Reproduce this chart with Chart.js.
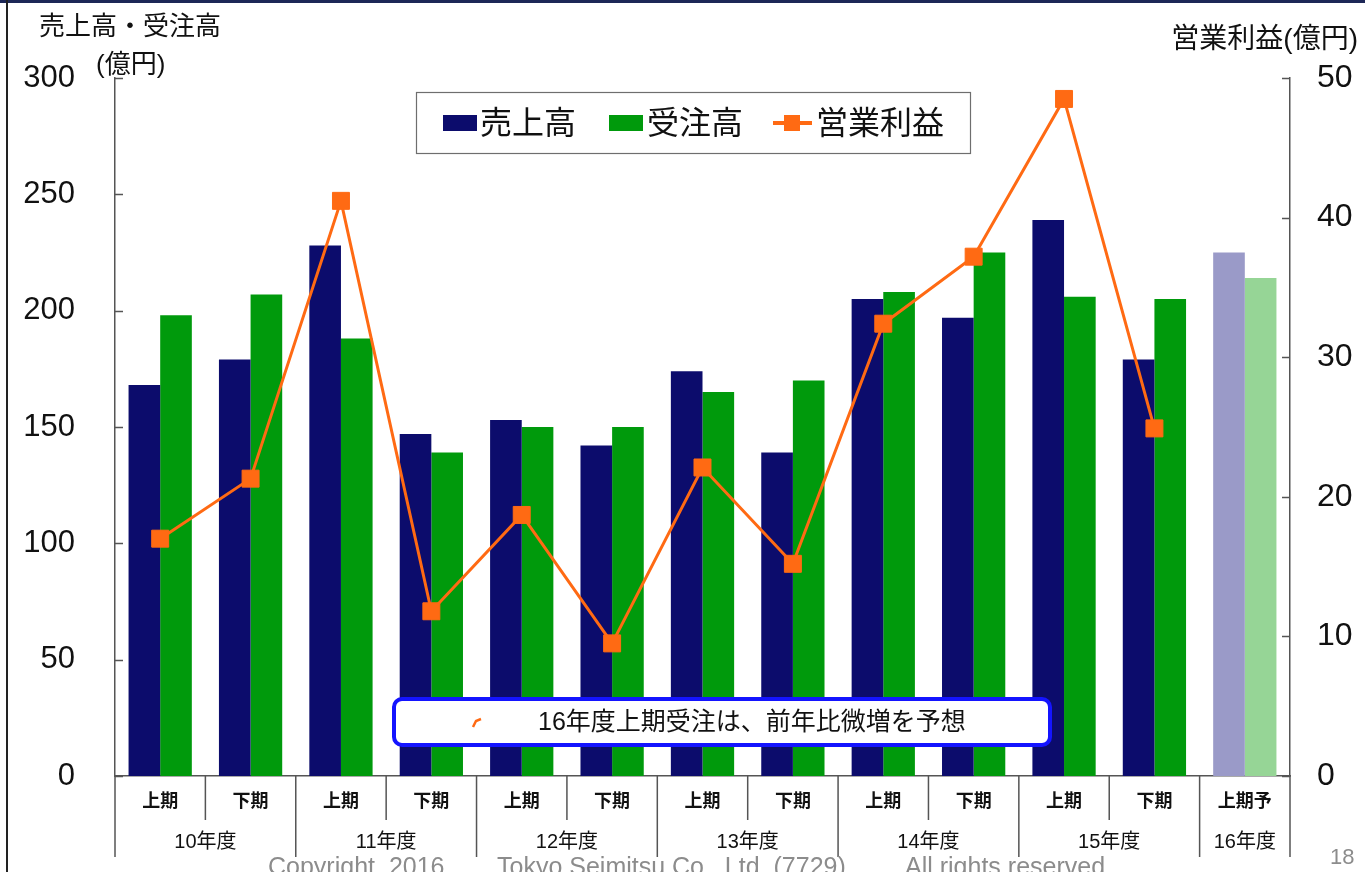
<!DOCTYPE html>
<html>
<head>
<meta charset="utf-8">
<script src="https://cdn.jsdelivr.net/npm/chart.js@4.4.1/dist/chart.umd.min.js"></script>
<style>
  html, body { margin: 0; padding: 0; background: #fff; }
  #wrap { width: 1365px; height: 872px; position: relative; }
</style>
</head>
<body>
<div id="wrap"><canvas id="salesChart"></canvas></div>
<script>
// periods on the x axis, grouped by fiscal year
const periods = ['上期', '下期', '上期', '下期', '上期', '下期', '上期', '下期', '上期', '下期', '上期', '下期', '上期予'];
const fiscalYears = ['10年度', '11年度', '12年度', '13年度', '14年度', '15年度', '16年度'];
const yearSpans = [2, 2, 2, 2, 2, 2, 1];

// 億円
const sales = [168, 179, 228, 147, 153, 142, 174, 139, 205, 197, 239, 179, 225];
const orders = [198, 207, 188, 139, 150, 150, 165, 170, 208, 225, 206, 205, 214];
const operatingProfit = [17.0, 21.3, 41.2, 11.8, 18.7, 9.5, 22.1, 15.2, 32.4, 37.2, 48.5, 24.9, null];

const leftTicks = [0, 50, 100, 150, 200, 250, 300];
const rightTicks = [0, 10, 20, 30, 40, 50];

const NAVY = '#0c0c6c', NAVY_FC = '#9a9ac8';
const GREEN = '#009a0c', GREEN_FC = '#96d596';
const ORANGE = '#ff6a13';
const AXIS = '#555555';
const FONT = '"Liberation Sans", Arial, "Noto Sans CJK JP", sans-serif';

const lastIdx = periods.length - 1;

const decor = {
    id: 'decor',
    beforeDraw(chart) {
        const c = chart.ctx;
        c.save();
        c.fillStyle = '#fff';
        c.fillRect(0, 0, chart.width, chart.height);
        c.restore();
    },
    afterDraw(chart) {
        const c = chart.ctx;
        const x = chart.scales.x, y = chart.scales.y, y1 = chart.scales.y1;
        const area = chart.chartArea;
        c.save();

        // axis titles
        c.fillStyle = '#111';
        c.textBaseline = 'top';
        c.textAlign = 'left';
        c.font = '26px ' + FONT;
        c.fillText('売上高・受注高', 39, 15);
        c.fillText('(億円)', 96, 53);
        c.textAlign = 'right';
        c.font = '28px ' + FONT;
        c.fillText('営業利益(億円)', 1358, 26);

        // inner tick marks on both value axes
        c.strokeStyle = AXIS;
        c.lineWidth = 1.5;
        c.beginPath();
        leftTicks.forEach(v => {
            const py = Math.round(y.getPixelForValue(v)) + 0.5;
            c.moveTo(area.left, py); c.lineTo(area.left + 8, py);
        });
        rightTicks.forEach(v => {
            const py = Math.round(y1.getPixelForValue(v)) + 0.5;
            c.moveTo(area.right, py); c.lineTo(area.right - 8, py);
        });
        c.stroke();

        // category separators below the axis
        const half = (x.getPixelForValue(1) - x.getPixelForValue(0)) / 2;
        const yearEnds = [];
        let acc = 0;
        yearSpans.forEach(n => { acc += n; yearEnds.push(acc); });
        c.beginPath();
        for (let i = 0; i <= periods.length; i++) {
            const px = i === 0 ? area.left : (i === periods.length ? area.right : x.getPixelForValue(i) - half);
            const isYear = i === 0 || yearEnds.includes(i);
            c.moveTo(px, area.bottom);
            c.lineTo(px, isYear ? 857 : 820);
        }
        c.stroke();

        // fiscal year labels
        c.fillStyle = '#111';
        c.font = '20px ' + FONT;
        c.textAlign = 'center';
        c.textBaseline = 'middle';
        let start = 0;
        fiscalYears.forEach((label, k) => {
            const end = start + yearSpans[k] - 1;
            const cx = (x.getPixelForValue(start) + x.getPixelForValue(end)) / 2;
            c.fillText(label, cx, 842);
            start = end + 1;
        });

        // legend
        const ds = chart.data.datasets;
        c.fillStyle = '#fff';
        c.fillRect(416, 92, 554, 61);
        c.strokeStyle = '#6e6e6e';
        c.lineWidth = 1.2;
        c.strokeRect(416.5, 92.5, 554, 61);
        const ly = 123;
        c.font = '32px ' + FONT;
        c.textAlign = 'left';
        c.textBaseline = 'middle';
        c.fillStyle = NAVY;
        c.fillRect(443, ly - 8, 34, 16);
        c.fillStyle = GREEN;
        c.fillRect(609, ly - 8, 34, 16);
        c.strokeStyle = ORANGE;
        c.lineWidth = 4;
        c.beginPath(); c.moveTo(773, ly); c.lineTo(812, ly); c.stroke();
        c.fillStyle = ORANGE;
        c.fillRect(784, ly - 8, 16, 16);
        c.fillStyle = '#111';
        c.fillText(ds[0].label, 480, ly + 2);
        c.fillText(ds[1].label, 647, ly + 2);
        c.fillText(ds[2].label, 816, ly + 2);

        // annotation box
        c.fillStyle = '#fff';
        c.strokeStyle = '#1414ff';
        c.lineWidth = 4;
        c.beginPath();
        c.roundRect(394, 699, 656, 46, 8);
        c.fill(); c.stroke();
        c.strokeStyle = ORANGE;
        c.lineWidth = 2.5;
        c.beginPath(); c.moveTo(473, 727); c.lineTo(476, 721); c.lineTo(481, 719); c.stroke();
        c.fillStyle = '#111';
        c.font = '25px ' + FONT;
        c.textAlign = 'left';
        c.fillText('16年度上期受注は、前年比微増を予想', 538, 723);

        // footer
        c.fillStyle = '#8c8c8c';
        c.font = '25px ' + FONT;
        c.textBaseline = 'alphabetic';
        c.fillText('Copyright  2016', 268, 875);
        c.fillText('Tokyo Seimitsu Co., Ltd. (7729)', 497, 875);
        c.fillText('All rights reserved.', 905, 875);
        c.font = '22px ' + FONT;
        c.fillText('18', 1330, 864);

        // slide frame
        c.fillStyle = '#1d2757';
        c.fillRect(0, 0, chart.width, 3);
        c.fillStyle = '#222';
        c.fillRect(6, 0, 2, chart.height);
        c.restore();
    }
};

new Chart(document.getElementById('salesChart'), {
    type: 'bar',
    data: {
        labels: periods,
        datasets: [{
            label: '売上高',
            data: sales,
            backgroundColor: sales.map((v, i) => i === lastIdx ? NAVY_FC : NAVY),
            categoryPercentage: 0.7,
            barPercentage: 1.0,
            order: 1
        }, {
            label: '受注高',
            data: orders,
            backgroundColor: orders.map((v, i) => i === lastIdx ? GREEN_FC : GREEN),
            categoryPercentage: 0.7,
            barPercentage: 1.0,
            order: 1
        }, {
            type: 'line',
            label: '営業利益',
            data: operatingProfit,
            yAxisID: 'y1',
            borderColor: ORANGE,
            borderWidth: 3,
            backgroundColor: ORANGE,
            pointStyle: 'rect',
            pointRadius: 12,
            pointBackgroundColor: ORANGE,
            pointBorderColor: ORANGE,
            pointBorderWidth: 1,
            tension: 0,
            order: 0
        }]
    },
    options: {
        responsive: true,
        maintainAspectRatio: false,
        animation: false,
        layout: { padding: { top: 78, left: 0, right: 0, bottom: 0 } },
        plugins: {
            legend: { display: false },
            tooltip: { enabled: false },
            title: { display: false }
        },
        scales: {
            x: {
                grid: { display: false, drawTicks: false },
                border: { display: true, color: AXIS, width: 1.5 },
                ticks: {
                    color: '#111',
                    font: { family: FONT, size: 18, weight: 'bold' },
                    padding: 15,
                    autoSkip: false,
                    maxRotation: 0
                },
                afterFit(scale) { scale.height = 96; }
            },
            y: {
                position: 'left',
                min: 0,
                max: 300,
                grid: { display: false, drawTicks: false },
                border: { display: true, color: AXIS, width: 1.5 },
                ticks: {
                    stepSize: 50,
                    color: '#111',
                    font: { family: FONT, size: 31 },
                    padding: 40
                },
                afterFit(scale) { scale.width = 115; }
            },
            y1: {
                position: 'right',
                min: 0,
                max: 50,
                grid: { display: false, drawTicks: false },
                border: { display: true, color: AXIS, width: 1.5 },
                ticks: {
                    stepSize: 10,
                    color: '#111',
                    font: { family: FONT, size: 32 },
                    padding: 27
                },
                afterFit(scale) { scale.width = 75; }
            }
        }
    },
    plugins: [decor]
});
</script>
</body>
</html>
